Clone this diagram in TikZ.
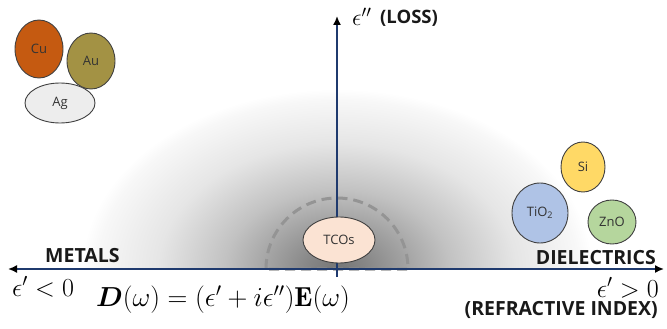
\RequirePackage{fix-cm}
\documentclass[tikz,border=0pt]{standalone}
\usepackage{fontspec}
\setsansfont{Open Sans}
\usepackage{bm}
\usetikzlibrary{arrows.meta,shapes.geometric}
\definecolor{navy}{HTML}{1F3A6E}
\definecolor{cucol}{HTML}{C55A11}
\definecolor{aucol}{HTML}{A39244}
\definecolor{agcol}{HTML}{EDEDED}
\definecolor{sicol}{HTML}{FFD966}
\definecolor{ticol}{HTML}{AFC3E6}
\definecolor{zncol}{HTML}{B5D69D}
\definecolor{tcocol}{HTML}{FBE3D3}
\pgfdeclareradialshading{glow}{\pgfpoint{0bp}{0bp}}{color(0bp)=(black!54); color(3bp)=(black!47); color(7.5bp)=(black!34); color(11bp)=(black!24); color(17.5bp)=(black!10); color(23.5bp)=(black!3); color(25bp)=(white); color(50bp)=(white)}
\tikzset{
  blob/.style={ellipse, draw=black!75, line width=0.9pt, inner sep=0pt,
    font=\sffamily\fontsize{13}{13}\selectfont, text=black!80},
  axisline/.style={draw=navy, line width=1.6pt},
  tip/.style={-{Latex[length=9pt,width=8pt,color=black]}},
  bigmath/.style={font=\fontsize{26}{26}\selectfont, inner sep=0pt},
  biglabel/.style={font=\sffamily\bfseries\fontsize{19.5}{19.5}\selectfont, inner sep=0pt, text=black!90},
  halo/.style={draw=black!42, line width=3pt, dash pattern=on 10pt off 6pt}
}
\begin{document}
\begin{tikzpicture}[x=1pt,y=-1pt]
\useasboundingbox (0,0) rectangle (667,329);
% glow
\coordinate (o) at (337,269);
\begin{scope}
  \clip (0,0) rectangle (667,269);
  \shade[shading=glow] (o) ellipse[x radius=255, y radius=180];
\end{scope}
% dashed semicircle
\draw[halo] (266,269) arc[start angle=180, end angle=360, radius=71] -- cycle;
% axes
\coordinate (xl) at (8,269);
\coordinate (xr) at (664,269);
\coordinate (yb) at (337,277);
\coordinate (yt) at (337,16);
\draw[axisline, tip] (o) -- (xl);
\draw[axisline, tip] (o) -- (xr);
\draw[axisline, tip] (yb) -- (yt);
% blobs
\node[blob, fill=cucol, minimum width=48pt, minimum height=58pt] (cu) at (39,49) {Cu};
\node[blob, fill=aucol, minimum width=48pt, minimum height=56pt] (au) at (91,61) {Au};
\node[blob, fill=agcol, minimum width=70pt, minimum height=40pt] (ag) at (60,103) {Ag};
\node[blob, fill=sicol, minimum width=44pt, minimum height=50pt] (si) at (583,167) {Si};
\node[blob, fill=ticol, minimum width=56pt, minimum height=60pt] (ti) at (540,213) {TiO\textsubscript{2}};
\node[blob, fill=zncol, minimum width=48pt, minimum height=44pt] (zn) at (612,222) {ZnO};
\node[blob, fill=tcocol, minimum width=72pt, minimum height=46pt] (tco) at (339,240) {TCOs};
% labels
\node[bigmath, font=\fontsize{24}{24}\selectfont, anchor=base west] (lossEps) at (352,26) {$\epsilon''$};
\node[biglabel, font=\sffamily\bfseries\fontsize{18.5}{18.5}\selectfont, anchor=base west] (loss) at (380,24) {(LOSS)};
\node[biglabel, anchor=base west] (metals) at (45,262) {METALS};
\node[biglabel, anchor=base east] (diel) at (656,264) {DIELECTRICS};
\node[bigmath, anchor=base west] (neg) at (12,296) {$\epsilon' < 0$};
\node[bigmath, anchor=base east] (pos) at (659,297) {$\epsilon' > 0$};
\node[bigmath, font=\fontsize{27.5}{27.5}\selectfont, anchor=base west] (eq) at (96,306) {$\bm{D}(\omega) = (\epsilon' + i\epsilon'')\mathbf{E}(\omega)$};
\node[biglabel, anchor=base east] (refr) at (658,315) {(REFRACTIVE INDEX)};
\end{tikzpicture}
\end{document}
